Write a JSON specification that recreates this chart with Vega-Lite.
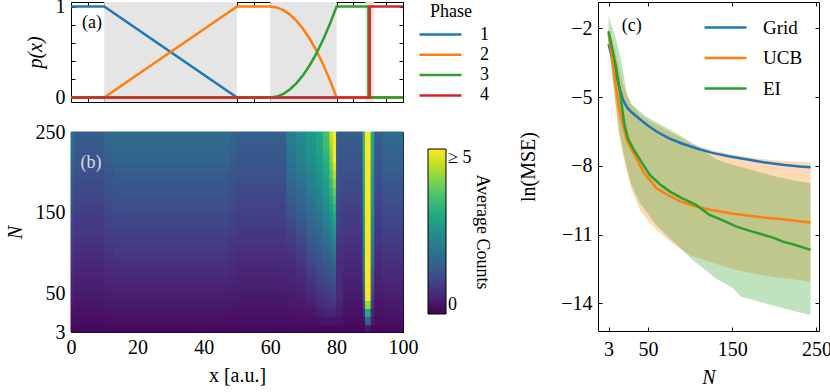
{
"$schema":"https://vega.github.io/schema/vega-lite/v6.json",
"padding":{"left":4,"top":-4,"right":0,"bottom":0},
"background":"white",
"config":{"font":"Liberation Serif","view":{"stroke":"black","strokeWidth":1},
"axis":{"labelFontSize":20,"titleFontSize":20,"labelColor":"black","titleColor":"black","titleFontWeight":"normal","tickColor":"black","domain":false,"grid":false,"tickSize":-4,"tickWidth":1,"labelFlush":false},
"axisX":{"labelPadding":9,"titlePadding":8},"axisY":{"labelPadding":10,"titlePadding":10},
"legend":{"labelFontSize":18,"titleFontSize":18,"titleFontWeight":"normal","labelColor":"black","titleColor":"black","padding":0}},
"spacing":26,
"resolve":{"scale":{"color":"independent","x":"independent","y":"independent"},"legend":{"color":"independent"}},
"hconcat":[
{"vconcat":[
{"width":332,"height":100,
"layer":[
{"data":{"values":[{"x":10,"x2":50},{"x":60,"x2":80},{"x":88.7,"x2":91.3}]},
"mark":{"type":"rect","color":"#e5e5e5"},
"encoding":{"x":{"field":"x","type":"quantitative","scale":{"domain":[0,100],"nice":false},"axis":{"values":[0,5,10,15,20,25,30,35,40,45,50,55,60,65,70,75,80,85,90,95,100],"labels":false,"title":null}},"x2":{"field":"x2"}}},
{"data":{"values":[
{"phase":"1","i":0,"x":0,"p":1},{"phase":"1","i":1,"x":10,"p":1},{"phase":"1","i":2,"x":50,"p":0},{"phase":"1","i":3,"x":100,"p":0},
{"phase":"2","i":0,"x":0,"p":0},{"phase":"2","i":1,"x":10,"p":0},{"phase":"2","i":2,"x":50,"p":1},{"phase":"2","i":3,"x":60,"p":1},{"phase":"2","i":4,"x":62,"p":0.99},{"phase":"2","i":5,"x":64,"p":0.96},{"phase":"2","i":6,"x":66,"p":0.91},{"phase":"2","i":7,"x":68,"p":0.84},{"phase":"2","i":8,"x":70,"p":0.75},{"phase":"2","i":9,"x":72,"p":0.64},{"phase":"2","i":10,"x":74,"p":0.51},{"phase":"2","i":11,"x":76,"p":0.36},{"phase":"2","i":12,"x":78,"p":0.19},{"phase":"2","i":13,"x":80,"p":0},{"phase":"2","i":14,"x":100,"p":0},
{"phase":"3","i":0,"x":0,"p":0},{"phase":"3","i":1,"x":60,"p":0},{"phase":"3","i":2,"x":62,"p":0.01},{"phase":"3","i":3,"x":64,"p":0.04},{"phase":"3","i":4,"x":66,"p":0.09},{"phase":"3","i":5,"x":68,"p":0.16},{"phase":"3","i":6,"x":70,"p":0.25},{"phase":"3","i":7,"x":72,"p":0.36},{"phase":"3","i":8,"x":74,"p":0.49},{"phase":"3","i":9,"x":76,"p":0.64},{"phase":"3","i":10,"x":78,"p":0.81},{"phase":"3","i":11,"x":80,"p":1},{"phase":"3","i":12,"x":89.6,"p":1},{"phase":"3","i":13,"x":89.6,"p":0},{"phase":"3","i":14,"x":100,"p":0},
{"phase":"4","i":0,"x":0,"p":0},{"phase":"4","i":1,"x":90,"p":0},{"phase":"4","i":2,"x":90,"p":1},{"phase":"4","i":3,"x":100,"p":1}
]},
"mark":{"type":"line","strokeWidth":2.5},
"encoding":{"x":{"field":"x","type":"quantitative","scale":{"domain":[0,100],"nice":false},"axis":{"orient":"top","values":[0,5,10,15,20,25,30,35,40,45,50,55,60,65,70,75,80,85,90,95,100],"labels":false,"title":null}},
"y":{"field":"p","type":"quantitative","scale":{"domain":[-0.05,1.05],"nice":false,"zero":false},"axis":{"orient":"right","values":[0,0.2,0.4,0.6,0.8,1],"labels":false,"title":null}},
"color":{"field":"phase","type":"nominal","scale":{"domain":["1","2","3","4"],"range":["#1f77b4","#ff7f0e","#2ca02c","#d62728"]},
"legend":{"orient":"none","legendX":359,"legendY":1,"title":"Phase","titleAnchor":"start","titlePadding":3,"symbolType":"M-2.33,0H2.33","symbolSize":324,"symbolStrokeWidth":2.5,"labelOffset":29,"rowPadding":0.3}},
"order":{"field":"i","type":"quantitative"}}},
{"data":{"values":[{"x":6.3,"p":0.82,"t":"(a)"}]},
"mark":{"type":"text","fontSize":18,"color":"black"},
"encoding":{"x":{"field":"x","type":"quantitative","axis":null},
"y":{"field":"p","type":"quantitative","axis":{"orient":"left","values":[0,0.2,0.4,0.6,0.8,1],"labelExpr":"datum.value == 0 ? '0' : datum.value == 1 ? '1' : ''","title":"p(x)","titleFontStyle":"italic"}},
"text":{"field":"t"}}}
],
"resolve":{"axis":{"x":"independent","y":"independent"}}},
{"width":332,"height":200,
"layer":[
{"data":{"values":[
{"x":0,"x2":1,"n":3,"n2":12,"c":0.14},{"x":0,"x2":1,"n":12,"n2":22,"c":0.21},{"x":0,"x2":1,"n":22,"n2":32,"c":0.28},{"x":0,"x2":1,"n":32,"n2":42,"c":0.36},{"x":0,"x2":1,"n":42,"n2":52,"c":0.42},{"x":0,"x2":1,"n":52,"n2":62,"c":0.49},{"x":0,"x2":1,"n":62,"n2":72,"c":0.57},{"x":0,"x2":1,"n":72,"n2":82,"c":0.64},{"x":0,"x2":1,"n":82,"n2":92,"c":0.71},{"x":0,"x2":1,"n":92,"n2":102,"c":0.79},{"x":0,"x2":1,"n":102,"n2":112,"c":0.86},{"x":0,"x2":1,"n":112,"n2":122,"c":0.93},{"x":0,"x2":1,"n":122,"n2":132,"c":1.01},{"x":0,"x2":1,"n":132,"n2":142,"c":1.08},{"x":0,"x2":1,"n":142,"n2":152,"c":1.14},{"x":0,"x2":1,"n":152,"n2":162,"c":1.22},{"x":0,"x2":1,"n":162,"n2":172,"c":1.29},{"x":0,"x2":1,"n":172,"n2":182,"c":1.37},{"x":0,"x2":1,"n":182,"n2":192,"c":1.44},{"x":0,"x2":1,"n":192,"n2":202,"c":1.51},{"x":0,"x2":1,"n":202,"n2":212,"c":1.59},{"x":0,"x2":1,"n":212,"n2":222,"c":1.66},{"x":0,"x2":1,"n":222,"n2":232,"c":1.73},{"x":0,"x2":1,"n":232,"n2":242,"c":1.81},{"x":0,"x2":1,"n":242,"n2":250,"c":1.87},
{"x":1,"x2":10,"n":3,"n2":12,"c":0.11},{"x":1,"x2":10,"n":12,"n2":22,"c":0.16},{"x":1,"x2":10,"n":22,"n2":32,"c":0.22},{"x":1,"x2":10,"n":32,"n2":42,"c":0.28},{"x":1,"x2":10,"n":42,"n2":52,"c":0.33},{"x":1,"x2":10,"n":52,"n2":62,"c":0.39},{"x":1,"x2":10,"n":62,"n2":72,"c":0.44},{"x":1,"x2":10,"n":72,"n2":82,"c":0.5},{"x":1,"x2":10,"n":82,"n2":92,"c":0.56},{"x":1,"x2":10,"n":92,"n2":102,"c":0.62},{"x":1,"x2":10,"n":102,"n2":112,"c":0.67},{"x":1,"x2":10,"n":112,"n2":122,"c":0.73},{"x":1,"x2":10,"n":122,"n2":132,"c":0.79},{"x":1,"x2":10,"n":132,"n2":142,"c":0.84},{"x":1,"x2":10,"n":142,"n2":152,"c":0.89},{"x":1,"x2":10,"n":152,"n2":162,"c":0.95},{"x":1,"x2":10,"n":162,"n2":172,"c":1.01},{"x":1,"x2":10,"n":172,"n2":182,"c":1.07},{"x":1,"x2":10,"n":182,"n2":192,"c":1.12},{"x":1,"x2":10,"n":192,"n2":202,"c":1.18},{"x":1,"x2":10,"n":202,"n2":212,"c":1.24},{"x":1,"x2":10,"n":212,"n2":222,"c":1.3},{"x":1,"x2":10,"n":222,"n2":232,"c":1.35},{"x":1,"x2":10,"n":232,"n2":242,"c":1.41},{"x":1,"x2":10,"n":242,"n2":250,"c":1.46},
{"x":10,"x2":13,"n":3,"n2":12,"c":0.12},{"x":10,"x2":13,"n":12,"n2":22,"c":0.19},{"x":10,"x2":13,"n":22,"n2":32,"c":0.25},{"x":10,"x2":13,"n":32,"n2":42,"c":0.32},{"x":10,"x2":13,"n":42,"n2":52,"c":0.37},{"x":10,"x2":13,"n":52,"n2":62,"c":0.44},{"x":10,"x2":13,"n":62,"n2":72,"c":0.5},{"x":10,"x2":13,"n":72,"n2":82,"c":0.57},{"x":10,"x2":13,"n":82,"n2":92,"c":0.63},{"x":10,"x2":13,"n":92,"n2":102,"c":0.7},{"x":10,"x2":13,"n":102,"n2":112,"c":0.76},{"x":10,"x2":13,"n":112,"n2":122,"c":0.83},{"x":10,"x2":13,"n":122,"n2":132,"c":0.89},{"x":10,"x2":13,"n":132,"n2":142,"c":0.96},{"x":10,"x2":13,"n":142,"n2":152,"c":1.01},{"x":10,"x2":13,"n":152,"n2":162,"c":1.08},{"x":10,"x2":13,"n":162,"n2":172,"c":1.14},{"x":10,"x2":13,"n":172,"n2":182,"c":1.21},{"x":10,"x2":13,"n":182,"n2":192,"c":1.27},{"x":10,"x2":13,"n":192,"n2":202,"c":1.34},{"x":10,"x2":13,"n":202,"n2":212,"c":1.4},{"x":10,"x2":13,"n":212,"n2":222,"c":1.47},{"x":10,"x2":13,"n":222,"n2":232,"c":1.53},{"x":10,"x2":13,"n":232,"n2":242,"c":1.6},{"x":10,"x2":13,"n":242,"n2":250,"c":1.66},
{"x":13,"x2":48,"n":3,"n2":12,"c":0.13},{"x":13,"x2":48,"n":12,"n2":22,"c":0.2},{"x":13,"x2":48,"n":22,"n2":32,"c":0.27},{"x":13,"x2":48,"n":32,"n2":42,"c":0.34},{"x":13,"x2":48,"n":42,"n2":52,"c":0.4},{"x":13,"x2":48,"n":52,"n2":62,"c":0.47},{"x":13,"x2":48,"n":62,"n2":72,"c":0.54},{"x":13,"x2":48,"n":72,"n2":82,"c":0.61},{"x":13,"x2":48,"n":82,"n2":92,"c":0.68},{"x":13,"x2":48,"n":92,"n2":102,"c":0.75},{"x":13,"x2":48,"n":102,"n2":112,"c":0.82},{"x":13,"x2":48,"n":112,"n2":122,"c":0.89},{"x":13,"x2":48,"n":122,"n2":132,"c":0.96},{"x":13,"x2":48,"n":132,"n2":142,"c":1.03},{"x":13,"x2":48,"n":142,"n2":152,"c":1.09},{"x":13,"x2":48,"n":152,"n2":162,"c":1.16},{"x":13,"x2":48,"n":162,"n2":172,"c":1.23},{"x":13,"x2":48,"n":172,"n2":182,"c":1.3},{"x":13,"x2":48,"n":182,"n2":192,"c":1.37},{"x":13,"x2":48,"n":192,"n2":202,"c":1.44},{"x":13,"x2":48,"n":202,"n2":212,"c":1.51},{"x":13,"x2":48,"n":212,"n2":222,"c":1.58},{"x":13,"x2":48,"n":222,"n2":232,"c":1.65},{"x":13,"x2":48,"n":232,"n2":242,"c":1.72},{"x":13,"x2":48,"n":242,"n2":250,"c":1.78},
{"x":48,"x2":50,"n":3,"n2":12,"c":0.12},{"x":48,"x2":50,"n":12,"n2":22,"c":0.18},{"x":48,"x2":50,"n":22,"n2":32,"c":0.24},{"x":48,"x2":50,"n":32,"n2":42,"c":0.31},{"x":48,"x2":50,"n":42,"n2":52,"c":0.36},{"x":48,"x2":50,"n":52,"n2":62,"c":0.42},{"x":48,"x2":50,"n":62,"n2":72,"c":0.49},{"x":48,"x2":50,"n":72,"n2":82,"c":0.55},{"x":48,"x2":50,"n":82,"n2":92,"c":0.61},{"x":48,"x2":50,"n":92,"n2":102,"c":0.68},{"x":48,"x2":50,"n":102,"n2":112,"c":0.74},{"x":48,"x2":50,"n":112,"n2":122,"c":0.8},{"x":48,"x2":50,"n":122,"n2":132,"c":0.86},{"x":48,"x2":50,"n":132,"n2":142,"c":0.93},{"x":48,"x2":50,"n":142,"n2":152,"c":0.98},{"x":48,"x2":50,"n":152,"n2":162,"c":1.04},{"x":48,"x2":50,"n":162,"n2":172,"c":1.11},{"x":48,"x2":50,"n":172,"n2":182,"c":1.17},{"x":48,"x2":50,"n":182,"n2":192,"c":1.23},{"x":48,"x2":50,"n":192,"n2":202,"c":1.3},{"x":48,"x2":50,"n":202,"n2":212,"c":1.36},{"x":48,"x2":50,"n":212,"n2":222,"c":1.42},{"x":48,"x2":50,"n":222,"n2":232,"c":1.49},{"x":48,"x2":50,"n":232,"n2":242,"c":1.55},{"x":48,"x2":50,"n":242,"n2":250,"c":1.6},
{"x":50,"x2":65,"n":3,"n2":12,"c":0.11},{"x":50,"x2":65,"n":12,"n2":22,"c":0.17},{"x":50,"x2":65,"n":22,"n2":32,"c":0.23},{"x":50,"x2":65,"n":32,"n2":42,"c":0.29},{"x":50,"x2":65,"n":42,"n2":52,"c":0.34},{"x":50,"x2":65,"n":52,"n2":62,"c":0.39},{"x":50,"x2":65,"n":62,"n2":72,"c":0.45},{"x":50,"x2":65,"n":72,"n2":82,"c":0.51},{"x":50,"x2":65,"n":82,"n2":92,"c":0.57},{"x":50,"x2":65,"n":92,"n2":102,"c":0.63},{"x":50,"x2":65,"n":102,"n2":112,"c":0.69},{"x":50,"x2":65,"n":112,"n2":122,"c":0.75},{"x":50,"x2":65,"n":122,"n2":132,"c":0.81},{"x":50,"x2":65,"n":132,"n2":142,"c":0.87},{"x":50,"x2":65,"n":142,"n2":152,"c":0.92},{"x":50,"x2":65,"n":152,"n2":162,"c":0.97},{"x":50,"x2":65,"n":162,"n2":172,"c":1.03},{"x":50,"x2":65,"n":172,"n2":182,"c":1.09},{"x":50,"x2":65,"n":182,"n2":192,"c":1.15},{"x":50,"x2":65,"n":192,"n2":202,"c":1.21},{"x":50,"x2":65,"n":202,"n2":212,"c":1.27},{"x":50,"x2":65,"n":212,"n2":222,"c":1.33},{"x":50,"x2":65,"n":222,"n2":232,"c":1.39},{"x":50,"x2":65,"n":232,"n2":242,"c":1.44},{"x":50,"x2":65,"n":242,"n2":250,"c":1.5},
{"x":65,"x2":68,"n":3,"n2":12,"c":0.12},{"x":65,"x2":68,"n":12,"n2":22,"c":0.17},{"x":65,"x2":68,"n":22,"n2":32,"c":0.25},{"x":65,"x2":68,"n":32,"n2":42,"c":0.31},{"x":65,"x2":68,"n":42,"n2":52,"c":0.36},{"x":65,"x2":68,"n":52,"n2":62,"c":0.42},{"x":65,"x2":68,"n":62,"n2":72,"c":0.48},{"x":65,"x2":68,"n":72,"n2":82,"c":0.54},{"x":65,"x2":68,"n":82,"n2":92,"c":0.6},{"x":65,"x2":68,"n":92,"n2":102,"c":0.68},{"x":65,"x2":68,"n":102,"n2":112,"c":0.77},{"x":65,"x2":68,"n":112,"n2":122,"c":0.87},{"x":65,"x2":68,"n":122,"n2":132,"c":0.97},{"x":65,"x2":68,"n":132,"n2":142,"c":1.09},{"x":65,"x2":68,"n":142,"n2":152,"c":1.21},{"x":65,"x2":68,"n":152,"n2":162,"c":1.32},{"x":65,"x2":68,"n":162,"n2":172,"c":1.42},{"x":65,"x2":68,"n":172,"n2":182,"c":1.52},{"x":65,"x2":68,"n":182,"n2":192,"c":1.62},{"x":65,"x2":68,"n":192,"n2":202,"c":1.72},{"x":65,"x2":68,"n":202,"n2":212,"c":1.82},{"x":65,"x2":68,"n":212,"n2":222,"c":1.9},{"x":65,"x2":68,"n":222,"n2":232,"c":1.98},{"x":65,"x2":68,"n":232,"n2":242,"c":2.05},{"x":65,"x2":68,"n":242,"n2":250,"c":2.1},
{"x":68,"x2":71,"n":3,"n2":12,"c":0.12},{"x":68,"x2":71,"n":12,"n2":22,"c":0.18},{"x":68,"x2":71,"n":22,"n2":32,"c":0.26},{"x":68,"x2":71,"n":32,"n2":42,"c":0.33},{"x":68,"x2":71,"n":42,"n2":52,"c":0.4},{"x":68,"x2":71,"n":52,"n2":62,"c":0.48},{"x":68,"x2":71,"n":62,"n2":72,"c":0.57},{"x":68,"x2":71,"n":72,"n2":82,"c":0.67},{"x":68,"x2":71,"n":82,"n2":92,"c":0.77},{"x":68,"x2":71,"n":92,"n2":102,"c":0.87},{"x":68,"x2":71,"n":102,"n2":112,"c":0.97},{"x":68,"x2":71,"n":112,"n2":122,"c":1.09},{"x":68,"x2":71,"n":122,"n2":132,"c":1.21},{"x":68,"x2":71,"n":132,"n2":142,"c":1.34},{"x":68,"x2":71,"n":142,"n2":152,"c":1.46},{"x":68,"x2":71,"n":152,"n2":162,"c":1.57},{"x":68,"x2":71,"n":162,"n2":172,"c":1.67},{"x":68,"x2":71,"n":172,"n2":182,"c":1.77},{"x":68,"x2":71,"n":182,"n2":192,"c":1.87},{"x":68,"x2":71,"n":192,"n2":202,"c":1.97},{"x":68,"x2":71,"n":202,"n2":212,"c":2.07},{"x":68,"x2":71,"n":212,"n2":222,"c":2.17},{"x":68,"x2":71,"n":222,"n2":232,"c":2.27},{"x":68,"x2":71,"n":232,"n2":242,"c":2.35},{"x":68,"x2":71,"n":242,"n2":250,"c":2.4},
{"x":71,"x2":74,"n":3,"n2":12,"c":0.13},{"x":71,"x2":74,"n":12,"n2":22,"c":0.19},{"x":71,"x2":74,"n":22,"n2":32,"c":0.29},{"x":71,"x2":74,"n":32,"n2":42,"c":0.4},{"x":71,"x2":74,"n":42,"n2":52,"c":0.52},{"x":71,"x2":74,"n":52,"n2":62,"c":0.64},{"x":71,"x2":74,"n":62,"n2":72,"c":0.76},{"x":71,"x2":74,"n":72,"n2":82,"c":0.89},{"x":71,"x2":74,"n":82,"n2":92,"c":1.01},{"x":71,"x2":74,"n":92,"n2":102,"c":1.14},{"x":71,"x2":74,"n":102,"n2":112,"c":1.26},{"x":71,"x2":74,"n":112,"n2":122,"c":1.39},{"x":71,"x2":74,"n":122,"n2":132,"c":1.51},{"x":71,"x2":74,"n":132,"n2":142,"c":1.64},{"x":71,"x2":74,"n":142,"n2":152,"c":1.76},{"x":71,"x2":74,"n":152,"n2":162,"c":1.87},{"x":71,"x2":74,"n":162,"n2":172,"c":1.97},{"x":71,"x2":74,"n":172,"n2":182,"c":2.07},{"x":71,"x2":74,"n":182,"n2":192,"c":2.17},{"x":71,"x2":74,"n":192,"n2":202,"c":2.27},{"x":71,"x2":74,"n":202,"n2":212,"c":2.37},{"x":71,"x2":74,"n":212,"n2":222,"c":2.47},{"x":71,"x2":74,"n":222,"n2":232,"c":2.57},{"x":71,"x2":74,"n":232,"n2":242,"c":2.65},{"x":71,"x2":74,"n":242,"n2":250,"c":2.7},
{"x":74,"x2":76,"n":3,"n2":12,"c":0.13},{"x":74,"x2":76,"n":12,"n2":22,"c":0.24},{"x":74,"x2":76,"n":22,"n2":32,"c":0.4},{"x":74,"x2":76,"n":32,"n2":42,"c":0.56},{"x":74,"x2":76,"n":42,"n2":52,"c":0.71},{"x":74,"x2":76,"n":52,"n2":62,"c":0.84},{"x":74,"x2":76,"n":62,"n2":72,"c":0.96},{"x":74,"x2":76,"n":72,"n2":82,"c":1.09},{"x":74,"x2":76,"n":82,"n2":92,"c":1.21},{"x":74,"x2":76,"n":92,"n2":102,"c":1.34},{"x":74,"x2":76,"n":102,"n2":112,"c":1.46},{"x":74,"x2":76,"n":112,"n2":122,"c":1.59},{"x":74,"x2":76,"n":122,"n2":132,"c":1.71},{"x":74,"x2":76,"n":132,"n2":142,"c":1.84},{"x":74,"x2":76,"n":142,"n2":152,"c":1.96},{"x":74,"x2":76,"n":152,"n2":162,"c":2.09},{"x":74,"x2":76,"n":162,"n2":172,"c":2.21},{"x":74,"x2":76,"n":172,"n2":182,"c":2.34},{"x":74,"x2":76,"n":182,"n2":192,"c":2.46},{"x":74,"x2":76,"n":192,"n2":202,"c":2.57},{"x":74,"x2":76,"n":202,"n2":212,"c":2.67},{"x":74,"x2":76,"n":212,"n2":222,"c":2.77},{"x":74,"x2":76,"n":222,"n2":232,"c":2.87},{"x":74,"x2":76,"n":232,"n2":242,"c":2.95},{"x":74,"x2":76,"n":242,"n2":250,"c":3.0},
{"x":76,"x2":78,"n":3,"n2":12,"c":0.13},{"x":76,"x2":78,"n":12,"n2":22,"c":0.27},{"x":76,"x2":78,"n":22,"n2":32,"c":0.49},{"x":76,"x2":78,"n":32,"n2":42,"c":0.66},{"x":76,"x2":78,"n":42,"n2":52,"c":0.81},{"x":76,"x2":78,"n":52,"n2":62,"c":0.94},{"x":76,"x2":78,"n":62,"n2":72,"c":1.06},{"x":76,"x2":78,"n":72,"n2":82,"c":1.21},{"x":76,"x2":78,"n":82,"n2":92,"c":1.36},{"x":76,"x2":78,"n":92,"n2":102,"c":1.51},{"x":76,"x2":78,"n":102,"n2":112,"c":1.66},{"x":76,"x2":78,"n":112,"n2":122,"c":1.81},{"x":76,"x2":78,"n":122,"n2":132,"c":1.96},{"x":76,"x2":78,"n":132,"n2":142,"c":2.11},{"x":76,"x2":78,"n":142,"n2":152,"c":2.26},{"x":76,"x2":78,"n":152,"n2":162,"c":2.41},{"x":76,"x2":78,"n":162,"n2":172,"c":2.56},{"x":76,"x2":78,"n":172,"n2":182,"c":2.71},{"x":76,"x2":78,"n":182,"n2":192,"c":2.86},{"x":76,"x2":78,"n":192,"n2":202,"c":2.97},{"x":76,"x2":78,"n":202,"n2":212,"c":3.07},{"x":76,"x2":78,"n":212,"n2":222,"c":3.2},{"x":76,"x2":78,"n":222,"n2":232,"c":3.35},{"x":76,"x2":78,"n":232,"n2":242,"c":3.45},{"x":76,"x2":78,"n":242,"n2":250,"c":3.5},
{"x":78,"x2":79,"n":3,"n2":12,"c":0.13},{"x":78,"x2":79,"n":12,"n2":22,"c":0.28},{"x":78,"x2":79,"n":22,"n2":32,"c":0.53},{"x":78,"x2":79,"n":32,"n2":42,"c":0.71},{"x":78,"x2":79,"n":42,"n2":52,"c":0.86},{"x":78,"x2":79,"n":52,"n2":62,"c":1.01},{"x":78,"x2":79,"n":62,"n2":72,"c":1.16},{"x":78,"x2":79,"n":72,"n2":82,"c":1.32},{"x":78,"x2":79,"n":82,"n2":92,"c":1.5},{"x":78,"x2":79,"n":92,"n2":102,"c":1.67},{"x":78,"x2":79,"n":102,"n2":112,"c":1.85},{"x":78,"x2":79,"n":112,"n2":122,"c":2.04},{"x":78,"x2":79,"n":122,"n2":132,"c":2.24},{"x":78,"x2":79,"n":132,"n2":142,"c":2.44},{"x":78,"x2":79,"n":142,"n2":152,"c":2.64},{"x":78,"x2":79,"n":152,"n2":162,"c":2.84},{"x":78,"x2":79,"n":162,"n2":172,"c":3.04},{"x":78,"x2":79,"n":172,"n2":182,"c":3.24},{"x":78,"x2":79,"n":182,"n2":192,"c":3.44},{"x":78,"x2":79,"n":192,"n2":202,"c":3.64},{"x":78,"x2":79,"n":202,"n2":212,"c":3.84},{"x":78,"x2":79,"n":212,"n2":222,"c":4.04},{"x":78,"x2":79,"n":222,"n2":232,"c":4.24},{"x":78,"x2":79,"n":232,"n2":242,"c":4.45},{"x":78,"x2":79,"n":242,"n2":250,"c":4.6},
{"x":79,"x2":80,"n":3,"n2":12,"c":0.13},{"x":79,"x2":80,"n":12,"n2":22,"c":0.28},{"x":79,"x2":80,"n":22,"n2":32,"c":0.53},{"x":79,"x2":80,"n":32,"n2":42,"c":0.71},{"x":79,"x2":80,"n":42,"n2":52,"c":0.86},{"x":79,"x2":80,"n":52,"n2":62,"c":1.04},{"x":79,"x2":80,"n":62,"n2":72,"c":1.24},{"x":79,"x2":80,"n":72,"n2":82,"c":1.44},{"x":79,"x2":80,"n":82,"n2":92,"c":1.64},{"x":79,"x2":80,"n":92,"n2":102,"c":1.84},{"x":79,"x2":80,"n":102,"n2":112,"c":2.04},{"x":79,"x2":80,"n":112,"n2":122,"c":2.27},{"x":79,"x2":80,"n":122,"n2":132,"c":2.52},{"x":79,"x2":80,"n":132,"n2":142,"c":2.77},{"x":79,"x2":80,"n":142,"n2":152,"c":3.02},{"x":79,"x2":80,"n":152,"n2":162,"c":3.27},{"x":79,"x2":80,"n":162,"n2":172,"c":3.52},{"x":79,"x2":80,"n":172,"n2":182,"c":3.8},{"x":79,"x2":80,"n":182,"n2":192,"c":4.1},{"x":79,"x2":80,"n":192,"n2":202,"c":4.4},{"x":79,"x2":80,"n":202,"n2":212,"c":4.7},{"x":79,"x2":80,"n":212,"n2":222,"c":5.05},{"x":79,"x2":80,"n":222,"n2":232,"c":5.4},{"x":79,"x2":80,"n":232,"n2":242,"c":5.7},{"x":79,"x2":80,"n":242,"n2":250,"c":6},
{"x":80,"x2":82,"n":3,"n2":12,"c":0.13},{"x":80,"x2":82,"n":12,"n2":22,"c":0.25},{"x":80,"x2":82,"n":22,"n2":32,"c":0.4},{"x":80,"x2":82,"n":32,"n2":42,"c":0.5},{"x":80,"x2":82,"n":42,"n2":52,"c":0.58},{"x":80,"x2":82,"n":52,"n2":62,"c":0.6},{"x":80,"x2":82,"n":62,"n2":72,"c":0.6},{"x":80,"x2":82,"n":72,"n2":82,"c":0.62},{"x":80,"x2":82,"n":82,"n2":92,"c":0.64},{"x":80,"x2":82,"n":92,"n2":102,"c":0.68},{"x":80,"x2":82,"n":102,"n2":112,"c":0.73},{"x":80,"x2":82,"n":112,"n2":122,"c":0.8},{"x":80,"x2":82,"n":122,"n2":132,"c":0.88},{"x":80,"x2":82,"n":132,"n2":142,"c":0.93},{"x":80,"x2":82,"n":142,"n2":152,"c":0.98},{"x":80,"x2":82,"n":152,"n2":162,"c":1.03},{"x":80,"x2":82,"n":162,"n2":172,"c":1.08},{"x":80,"x2":82,"n":172,"n2":182,"c":1.13},{"x":80,"x2":82,"n":182,"n2":192,"c":1.18},{"x":80,"x2":82,"n":192,"n2":202,"c":1.23},{"x":80,"x2":82,"n":202,"n2":212,"c":1.28},{"x":80,"x2":82,"n":212,"n2":222,"c":1.33},{"x":80,"x2":82,"n":222,"n2":232,"c":1.38},{"x":80,"x2":82,"n":232,"n2":242,"c":1.43},{"x":80,"x2":82,"n":242,"n2":250,"c":1.48},
{"x":82,"x2":88,"n":3,"n2":12,"c":0.11},{"x":82,"x2":88,"n":12,"n2":22,"c":0.16},{"x":82,"x2":88,"n":22,"n2":32,"c":0.22},{"x":82,"x2":88,"n":32,"n2":42,"c":0.28},{"x":82,"x2":88,"n":42,"n2":52,"c":0.33},{"x":82,"x2":88,"n":52,"n2":62,"c":0.39},{"x":82,"x2":88,"n":62,"n2":72,"c":0.44},{"x":82,"x2":88,"n":72,"n2":82,"c":0.5},{"x":82,"x2":88,"n":82,"n2":92,"c":0.56},{"x":82,"x2":88,"n":92,"n2":102,"c":0.62},{"x":82,"x2":88,"n":102,"n2":112,"c":0.67},{"x":82,"x2":88,"n":112,"n2":122,"c":0.73},{"x":82,"x2":88,"n":122,"n2":132,"c":0.79},{"x":82,"x2":88,"n":132,"n2":142,"c":0.84},{"x":82,"x2":88,"n":142,"n2":152,"c":0.89},{"x":82,"x2":88,"n":152,"n2":162,"c":0.95},{"x":82,"x2":88,"n":162,"n2":172,"c":1.01},{"x":82,"x2":88,"n":172,"n2":182,"c":1.07},{"x":82,"x2":88,"n":182,"n2":192,"c":1.12},{"x":82,"x2":88,"n":192,"n2":202,"c":1.18},{"x":82,"x2":88,"n":202,"n2":212,"c":1.24},{"x":82,"x2":88,"n":212,"n2":222,"c":1.3},{"x":82,"x2":88,"n":222,"n2":232,"c":1.35},{"x":82,"x2":88,"n":232,"n2":242,"c":1.41},{"x":82,"x2":88,"n":242,"n2":250,"c":1.46},
{"x":88,"x2":88.7,"n":3,"n2":12,"c":0.12},{"x":88,"x2":88.7,"n":12,"n2":22,"c":0.2},{"x":88,"x2":88.7,"n":22,"n2":32,"c":0.5},{"x":88,"x2":88.7,"n":32,"n2":42,"c":1.0},{"x":88,"x2":88.7,"n":42,"n2":52,"c":1.4},{"x":88,"x2":88.7,"n":52,"n2":62,"c":1.7},{"x":88,"x2":88.7,"n":62,"n2":72,"c":2.0},{"x":88,"x2":88.7,"n":72,"n2":82,"c":2.1},{"x":88,"x2":88.7,"n":82,"n2":92,"c":2.25},{"x":88,"x2":88.7,"n":92,"n2":102,"c":2.35},{"x":88,"x2":88.7,"n":102,"n2":112,"c":2.45},{"x":88,"x2":88.7,"n":112,"n2":122,"c":2.55},{"x":88,"x2":88.7,"n":122,"n2":132,"c":2.65},{"x":88,"x2":88.7,"n":132,"n2":142,"c":2.75},{"x":88,"x2":88.7,"n":142,"n2":152,"c":2.85},{"x":88,"x2":88.7,"n":152,"n2":162,"c":2.95},{"x":88,"x2":88.7,"n":162,"n2":172,"c":3.0},{"x":88,"x2":88.7,"n":172,"n2":182,"c":3.05},{"x":88,"x2":88.7,"n":182,"n2":192,"c":3.1},{"x":88,"x2":88.7,"n":192,"n2":202,"c":3.15},{"x":88,"x2":88.7,"n":202,"n2":212,"c":3.2},{"x":88,"x2":88.7,"n":212,"n2":222,"c":3.25},{"x":88,"x2":88.7,"n":222,"n2":232,"c":3.3},{"x":88,"x2":88.7,"n":232,"n2":242,"c":3.35},{"x":88,"x2":88.7,"n":242,"n2":250,"c":3.4},
{"x":88.7,"x2":90.4,"n":3,"n2":12,"c":0.3},{"x":88.7,"x2":90.4,"n":12,"n2":22,"c":1.6},{"x":88.7,"x2":90.4,"n":22,"n2":32,"c":3.0},{"x":88.7,"x2":90.4,"n":32,"n2":42,"c":4.2},{"x":88.7,"x2":90.4,"n":42,"n2":52,"c":5.5},{"x":88.7,"x2":90.4,"n":52,"n2":62,"c":6},{"x":88.7,"x2":90.4,"n":62,"n2":72,"c":6},{"x":88.7,"x2":90.4,"n":72,"n2":82,"c":6},{"x":88.7,"x2":90.4,"n":82,"n2":92,"c":6},{"x":88.7,"x2":90.4,"n":92,"n2":102,"c":6},{"x":88.7,"x2":90.4,"n":102,"n2":112,"c":6},{"x":88.7,"x2":90.4,"n":112,"n2":122,"c":6},{"x":88.7,"x2":90.4,"n":122,"n2":132,"c":6},{"x":88.7,"x2":90.4,"n":132,"n2":142,"c":6},{"x":88.7,"x2":90.4,"n":142,"n2":152,"c":6},{"x":88.7,"x2":90.4,"n":152,"n2":162,"c":6},{"x":88.7,"x2":90.4,"n":162,"n2":172,"c":6},{"x":88.7,"x2":90.4,"n":172,"n2":182,"c":6},{"x":88.7,"x2":90.4,"n":182,"n2":192,"c":6},{"x":88.7,"x2":90.4,"n":192,"n2":202,"c":6},{"x":88.7,"x2":90.4,"n":202,"n2":212,"c":6},{"x":88.7,"x2":90.4,"n":212,"n2":222,"c":6},{"x":88.7,"x2":90.4,"n":222,"n2":232,"c":6},{"x":88.7,"x2":90.4,"n":232,"n2":242,"c":6},{"x":88.7,"x2":90.4,"n":242,"n2":250,"c":6},
{"x":90.4,"x2":91.5,"n":3,"n2":12,"c":0.12},{"x":90.4,"x2":91.5,"n":12,"n2":22,"c":0.3},{"x":90.4,"x2":91.5,"n":22,"n2":32,"c":0.5},{"x":90.4,"x2":91.5,"n":32,"n2":42,"c":0.75},{"x":90.4,"x2":91.5,"n":42,"n2":52,"c":1.0},{"x":90.4,"x2":91.5,"n":52,"n2":62,"c":1.25},{"x":90.4,"x2":91.5,"n":62,"n2":72,"c":1.5},{"x":90.4,"x2":91.5,"n":72,"n2":82,"c":1.65},{"x":90.4,"x2":91.5,"n":82,"n2":92,"c":1.8},{"x":90.4,"x2":91.5,"n":92,"n2":102,"c":1.9},{"x":90.4,"x2":91.5,"n":102,"n2":112,"c":2.0},{"x":90.4,"x2":91.5,"n":112,"n2":122,"c":2.1},{"x":90.4,"x2":91.5,"n":122,"n2":132,"c":2.2},{"x":90.4,"x2":91.5,"n":132,"n2":142,"c":2.3},{"x":90.4,"x2":91.5,"n":142,"n2":152,"c":2.4},{"x":90.4,"x2":91.5,"n":152,"n2":162,"c":2.5},{"x":90.4,"x2":91.5,"n":162,"n2":172,"c":2.6},{"x":90.4,"x2":91.5,"n":172,"n2":182,"c":2.65},{"x":90.4,"x2":91.5,"n":182,"n2":192,"c":2.7},{"x":90.4,"x2":91.5,"n":192,"n2":202,"c":2.75},{"x":90.4,"x2":91.5,"n":202,"n2":212,"c":2.8},{"x":90.4,"x2":91.5,"n":212,"n2":222,"c":2.85},{"x":90.4,"x2":91.5,"n":222,"n2":232,"c":2.9},{"x":90.4,"x2":91.5,"n":232,"n2":242,"c":2.95},{"x":90.4,"x2":91.5,"n":242,"n2":250,"c":3.0},
{"x":91.5,"x2":94,"n":3,"n2":12,"c":0.11},{"x":91.5,"x2":94,"n":12,"n2":22,"c":0.17},{"x":91.5,"x2":94,"n":22,"n2":32,"c":0.23},{"x":91.5,"x2":94,"n":32,"n2":42,"c":0.29},{"x":91.5,"x2":94,"n":42,"n2":52,"c":0.34},{"x":91.5,"x2":94,"n":52,"n2":62,"c":0.39},{"x":91.5,"x2":94,"n":62,"n2":72,"c":0.45},{"x":91.5,"x2":94,"n":72,"n2":82,"c":0.51},{"x":91.5,"x2":94,"n":82,"n2":92,"c":0.57},{"x":91.5,"x2":94,"n":92,"n2":102,"c":0.63},{"x":91.5,"x2":94,"n":102,"n2":112,"c":0.69},{"x":91.5,"x2":94,"n":112,"n2":122,"c":0.75},{"x":91.5,"x2":94,"n":122,"n2":132,"c":0.81},{"x":91.5,"x2":94,"n":132,"n2":142,"c":0.87},{"x":91.5,"x2":94,"n":142,"n2":152,"c":0.92},{"x":91.5,"x2":94,"n":152,"n2":162,"c":0.97},{"x":91.5,"x2":94,"n":162,"n2":172,"c":1.03},{"x":91.5,"x2":94,"n":172,"n2":182,"c":1.09},{"x":91.5,"x2":94,"n":182,"n2":192,"c":1.15},{"x":91.5,"x2":94,"n":192,"n2":202,"c":1.21},{"x":91.5,"x2":94,"n":202,"n2":212,"c":1.27},{"x":91.5,"x2":94,"n":212,"n2":222,"c":1.33},{"x":91.5,"x2":94,"n":222,"n2":232,"c":1.39},{"x":91.5,"x2":94,"n":232,"n2":242,"c":1.44},{"x":91.5,"x2":94,"n":242,"n2":250,"c":1.5},
{"x":94,"x2":100,"n":3,"n2":12,"c":0.13},{"x":94,"x2":100,"n":12,"n2":22,"c":0.2},{"x":94,"x2":100,"n":22,"n2":32,"c":0.26},{"x":94,"x2":100,"n":32,"n2":42,"c":0.33},{"x":94,"x2":100,"n":42,"n2":52,"c":0.39},{"x":94,"x2":100,"n":52,"n2":62,"c":0.46},{"x":94,"x2":100,"n":62,"n2":72,"c":0.53},{"x":94,"x2":100,"n":72,"n2":82,"c":0.6},{"x":94,"x2":100,"n":82,"n2":92,"c":0.67},{"x":94,"x2":100,"n":92,"n2":102,"c":0.74},{"x":94,"x2":100,"n":102,"n2":112,"c":0.8},{"x":94,"x2":100,"n":112,"n2":122,"c":0.87},{"x":94,"x2":100,"n":122,"n2":132,"c":0.94},{"x":94,"x2":100,"n":132,"n2":142,"c":1.01},{"x":94,"x2":100,"n":142,"n2":152,"c":1.07},{"x":94,"x2":100,"n":152,"n2":162,"c":1.14},{"x":94,"x2":100,"n":162,"n2":172,"c":1.21},{"x":94,"x2":100,"n":172,"n2":182,"c":1.27},{"x":94,"x2":100,"n":182,"n2":192,"c":1.34},{"x":94,"x2":100,"n":192,"n2":202,"c":1.41},{"x":94,"x2":100,"n":202,"n2":212,"c":1.48},{"x":94,"x2":100,"n":212,"n2":222,"c":1.55},{"x":94,"x2":100,"n":222,"n2":232,"c":1.62},{"x":94,"x2":100,"n":232,"n2":242,"c":1.69},{"x":94,"x2":100,"n":242,"n2":250,"c":1.74}
]},
"mark":{"type":"rect","strokeWidth":1},
"encoding":{"x":{"field":"x","type":"quantitative","scale":{"domain":[0,100],"nice":false},"axis":{"values":[0,5,10,15,20,25,30,35,40,45,50,55,60,65,70,75,80,85,90,95,100],"labelExpr":"datum.value % 20 == 0 ? format(datum.value, 'd') : ''","title":"x [a.u.]"}},
"x2":{"field":"x2"},
"y":{"field":"n","type":"quantitative","scale":{"domain":[3,250],"nice":false,"zero":false},"axis":{"values":[3,50,150,250],"title":"N","titleFontStyle":"italic"}},
"y2":{"field":"n2"},
"stroke":{"field":"c","type":"quantitative","scale":{"scheme":"viridis","domain":[0,5],"clamp":true},"legend":null},
"color":{"field":"c","type":"quantitative","scale":{"scheme":"viridis","domain":[0,5],"clamp":true},
"legend":{"orient":"none","legendX":357,"legendY":17,"direction":"vertical","gradientLength":165,"gradientThickness":18,"gradientStrokeColor":"black","gradientStrokeWidth":1,"values":[0,5],"labelExpr":"datum.value == 5 ? '≥ 5' : '0'","title":"Average Counts","titleOrient":"right","titleAnchor":"middle","titlePadding":2,"labelFontSize":18,"titleFontSize":18}}}},
{"data":{"values":[{"x":6,"n":212,"t":"(b)"}]},
"mark":{"type":"text","fontSize":18,"color":"#dddddd"},
"encoding":{"x":{"field":"x","type":"quantitative","axis":{"orient":"top","values":[0,5,10,15,20,25,30,35,40,45,50,55,60,65,70,75,80,85,90,95,100],"labels":false,"title":null}},
"y":{"field":"n","type":"quantitative","axis":{"orient":"right","values":[3,50,150,250],"labels":false,"title":null}},
"text":{"field":"t"}}}
],
"resolve":{"axis":{"x":"independent","y":"independent"}}}
],
"spacing":30,"bounds":"flush",
"resolve":{"scale":{"color":"independent","x":"independent","y":"independent"},"legend":{"color":"independent"}}},
{"width":221,"height":329,
"layer":[
{"data":{"values":[
{"m":"UCB","N":3,"lo":-2.5,"hi":-1.95},{"m":"UCB","N":6,"lo":-3.6,"hi":-2.3},{"m":"UCB","N":10,"lo":-5.0,"hi":-2.8},{"m":"UCB","N":15,"lo":-6.6,"hi":-3.6},{"m":"UCB","N":20,"lo":-7.5,"hi":-4.4},{"m":"UCB","N":25,"lo":-8.3,"hi":-4.9},{"m":"UCB","N":30,"lo":-9.0,"hi":-5.3},{"m":"UCB","N":40,"lo":-9.9,"hi":-5.75},{"m":"UCB","N":50,"lo":-10.4,"hi":-6.0},{"m":"UCB","N":60,"lo":-10.8,"hi":-6.2},{"m":"UCB","N":80,"lo":-11.4,"hi":-6.6},{"m":"UCB","N":100,"lo":-11.9,"hi":-7.0},{"m":"UCB","N":125,"lo":-12.2,"hi":-7.3},{"m":"UCB","N":150,"lo":-12.5,"hi":-7.5},{"m":"UCB","N":175,"lo":-12.7,"hi":-7.65},{"m":"UCB","N":200,"lo":-12.85,"hi":-7.75},{"m":"UCB","N":225,"lo":-12.95,"hi":-7.82},{"m":"UCB","N":243,"lo":-13.05,"hi":-7.85},
{"m":"EI","N":3,"lo":-2.6,"hi":-1.45},{"m":"EI","N":6,"lo":-3.6,"hi":-1.8},{"m":"EI","N":10,"lo":-4.8,"hi":-2.2},{"m":"EI","N":15,"lo":-6.3,"hi":-2.9},{"m":"EI","N":20,"lo":-7.3,"hi":-3.8},{"m":"EI","N":25,"lo":-8.1,"hi":-4.9},{"m":"EI","N":30,"lo":-8.8,"hi":-5.3},{"m":"EI","N":40,"lo":-9.6,"hi":-5.6},{"m":"EI","N":50,"lo":-10.1,"hi":-5.9},{"m":"EI","N":60,"lo":-10.6,"hi":-6.1},{"m":"EI","N":80,"lo":-11.3,"hi":-6.5},{"m":"EI","N":100,"lo":-12.0,"hi":-6.95},{"m":"EI","N":110,"lo":-12.3,"hi":-7.2},{"m":"EI","N":130,"lo":-12.9,"hi":-7.7},{"m":"EI","N":150,"lo":-13.3,"hi":-7.95},{"m":"EI","N":160,"lo":-13.7,"hi":-8.05},{"m":"EI","N":175,"lo":-13.85,"hi":-8.2},{"m":"EI","N":200,"lo":-14.1,"hi":-8.45},{"m":"EI","N":225,"lo":-14.35,"hi":-8.65},{"m":"EI","N":243,"lo":-14.5,"hi":-8.76}
]},
"mark":{"type":"area","opacity":0.3},
"encoding":{"x":{"field":"N","type":"quantitative","scale":{"domain":[-9.5,253],"nice":false,"zero":false},"axis":{"values":[3,50,150,250],"title":"N","titleFontStyle":"italic","labelPadding":12}},
"y":{"field":"lo","type":"quantitative","scale":{"domain":[-15.2,-0.85],"nice":false,"zero":false},"axis":{"values":[-2,-5,-8,-11,-14],"title":"ln(MSE)","titlePadding":22}},
"y2":{"field":"hi"},
"fill":{"field":"m","type":"nominal","scale":{"domain":["Grid","UCB","EI"],"range":["#1f77b4","#ff7f0e","#2ca02c"]},"legend":null}}},
{"data":{"values":[
{"m":"Grid","N":3,"v":-2.69},{"m":"Grid","N":8,"v":-3.4},{"m":"Grid","N":12,"v":-4.0},{"m":"Grid","N":16,"v":-4.6},{"m":"Grid","N":20,"v":-5.1},{"m":"Grid","N":25,"v":-5.45},{"m":"Grid","N":30,"v":-5.65},{"m":"Grid","N":40,"v":-5.95},{"m":"Grid","N":50,"v":-6.25},{"m":"Grid","N":60,"v":-6.5},{"m":"Grid","N":75,"v":-6.8},{"m":"Grid","N":90,"v":-7.02},{"m":"Grid","N":107,"v":-7.23},{"m":"Grid","N":125,"v":-7.42},{"m":"Grid","N":147,"v":-7.59},{"m":"Grid","N":170,"v":-7.73},{"m":"Grid","N":187,"v":-7.84},{"m":"Grid","N":210,"v":-7.95},{"m":"Grid","N":230,"v":-8.02},{"m":"Grid","N":243,"v":-8.06},
{"m":"UCB","N":3,"v":-2.2},{"m":"UCB","N":8,"v":-3.5},{"m":"UCB","N":12,"v":-4.6},{"m":"UCB","N":16,"v":-5.6},{"m":"UCB","N":20,"v":-6.2},{"m":"UCB","N":25,"v":-6.9},{"m":"UCB","N":30,"v":-7.25},{"m":"UCB","N":36,"v":-7.66},{"m":"UCB","N":45,"v":-8.3},{"m":"UCB","N":60,"v":-8.97},{"m":"UCB","N":75,"v":-9.3},{"m":"UCB","N":88,"v":-9.55},{"m":"UCB","N":107,"v":-9.77},{"m":"UCB","N":125,"v":-9.92},{"m":"UCB","N":147,"v":-10.06},{"m":"UCB","N":170,"v":-10.17},{"m":"UCB","N":187,"v":-10.25},{"m":"UCB","N":210,"v":-10.33},{"m":"UCB","N":230,"v":-10.41},{"m":"UCB","N":243,"v":-10.47},
{"m":"EI","N":3,"v":-2.13},{"m":"EI","N":8,"v":-3.0},{"m":"EI","N":12,"v":-3.7},{"m":"EI","N":16,"v":-4.6},{"m":"EI","N":20,"v":-5.7},{"m":"EI","N":22,"v":-6.2},{"m":"EI","N":26,"v":-6.8},{"m":"EI","N":32,"v":-7.23},{"m":"EI","N":40,"v":-7.7},{"m":"EI","N":52,"v":-8.39},{"m":"EI","N":64,"v":-8.8},{"m":"EI","N":76,"v":-9.12},{"m":"EI","N":90,"v":-9.4},{"m":"EI","N":107,"v":-9.7},{"m":"EI","N":123,"v":-10.14},{"m":"EI","N":140,"v":-10.4},{"m":"EI","N":155,"v":-10.65},{"m":"EI","N":170,"v":-10.82},{"m":"EI","N":187,"v":-11.0},{"m":"EI","N":200,"v":-11.15},{"m":"EI","N":210,"v":-11.3},{"m":"EI","N":225,"v":-11.45},{"m":"EI","N":243,"v":-11.66}
]},
"mark":{"type":"line","strokeWidth":2.5},
"encoding":{"x":{"field":"N","type":"quantitative","axis":{"orient":"top","values":[3,50,150,250],"labels":false,"title":null}},
"y":{"field":"v","type":"quantitative","axis":{"orient":"right","values":[-2,-5,-8,-11,-14],"labels":false,"title":null}},
"stroke":{"field":"m","type":"nominal","scale":{"domain":["Grid","UCB","EI"],"range":["#1f77b4","#ff7f0e","#2ca02c"]},
"legend":{"orient":"none","legendX":116.5,"legendY":14.5,"title":null,"symbolType":"M-2.21,0H2.21","symbolSize":361,"symbolStrokeWidth":2.5,"labelOffset":26.5,"rowPadding":9.5,"labelFontSize":19}}}},
{"data":{"values":[{"N":30.6,"v":-1.91,"t":"(c)"}]},
"mark":{"type":"text","fontSize":18,"color":"black"},
"encoding":{"x":{"field":"N","type":"quantitative","axis":null},"y":{"field":"v","type":"quantitative","axis":null},"text":{"field":"t"}}}
],
"resolve":{"axis":{"x":"independent","y":"independent"}}}
]
}
